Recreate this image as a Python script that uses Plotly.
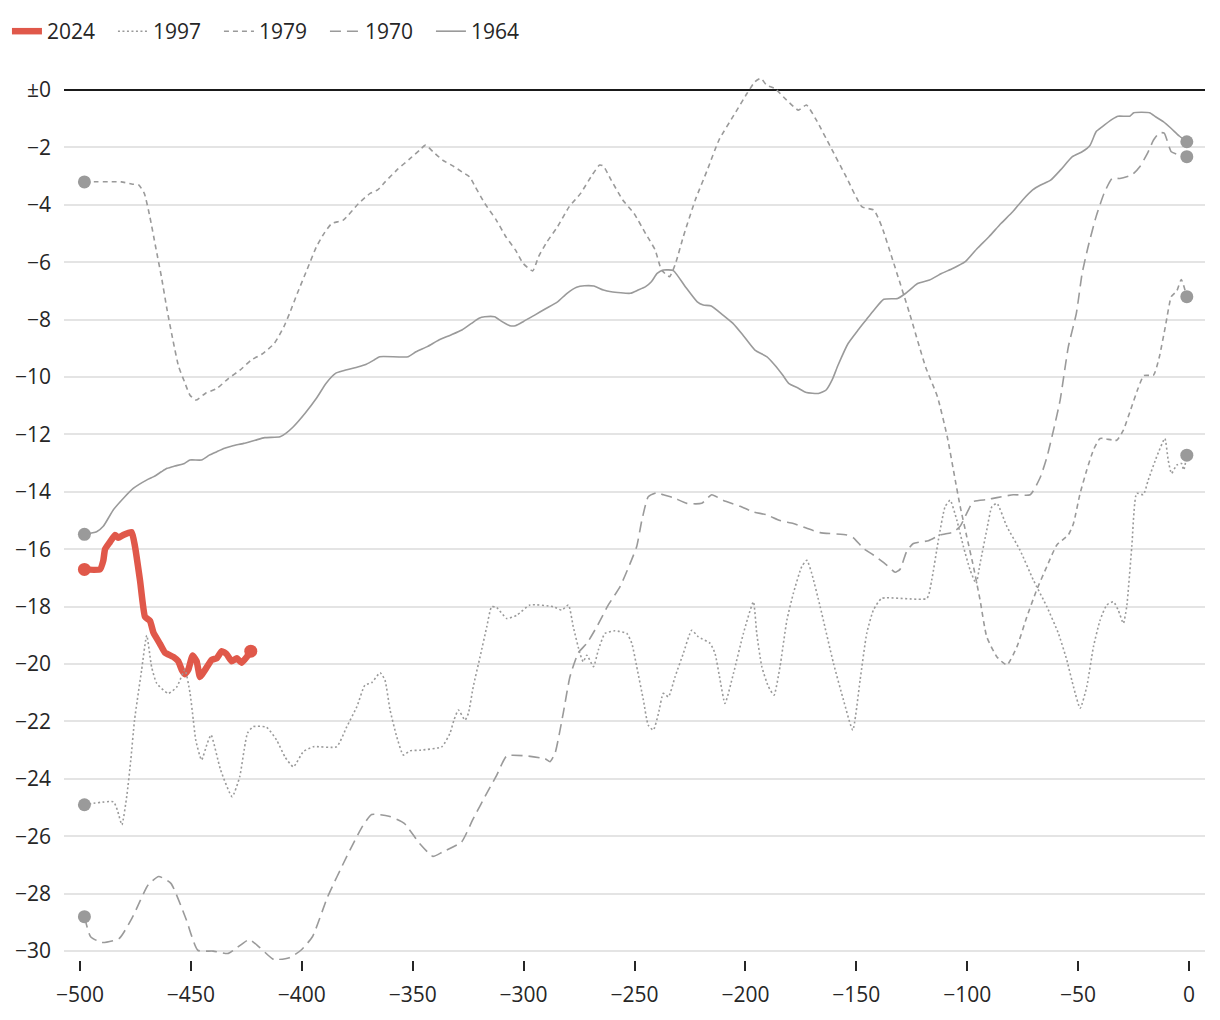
import plotly.graph_objects as go

# ---------------- data ----------------
x_2024 = [-498, -491, -489.5, -488.7, -486.5, -484.2, -482.7, -480.5, -476.7, -475.2, -472.9, -470.7,
          -468.4, -466.9, -463.9, -461.7, -457.9, -455.7, -454.1, -452.7, -451.2, -449.2, -447.4,
          -445.9, -443.6, -440.6, -438.4, -436.1, -433.9, -431.6, -429.3, -427.1, -424.8, -423]
y_2024 = [-16.7, -16.7, -16.4, -16.0, -15.75, -15.5, -15.6, -15.5, -15.4, -15.9, -17.1, -18.35,
          -18.5, -18.9, -19.3, -19.6, -19.75, -19.9, -20.2, -20.35, -20.2, -19.7, -19.9,
          -20.45, -20.2, -19.85, -19.8, -19.55, -19.65, -19.9, -19.8, -19.95, -19.75, -19.55]

x_1997 = [-498, -484.9, -483.1, -481.1, -478.9, -477.1, -475.4, -472.2, -469.9, -467.7, -465.4,
          -460.2, -456.4, -452.7, -450.4, -448.9, -447.8, -445.2, -442.6, -440.9, -436.6, -431.4,
          -428, -424.5, -421.9, -415.9, -411.3, -407.6, -403.8, -399.3, -394.8, -384.3, -379.7,
          -375.2, -371.5, -368.5, -364.7, -362.5, -360.2, -357.2, -354.2, -351.2, -346.7, -336.9,
          -333.2, -331.4, -329.4, -326.4, -324.9, -322.7, -319.6, -316.6, -314.4, -312.1, -307.6,
          -303.1, -297.1, -286.6, -282.8, -279.8, -277.6, -274.6, -273.1, -271.5, -268.5, -266.3,
          -263.3, -258.8, -253.5, -251.2, -249, -246, -243.8, -241.5, -239.2, -237, -234.7, -231.7,
          -228, -224.2, -221.2, -215.9, -213.7, -211.4, -209.2, -205.4, -200.9, -196.4, -194.9,
          -192.6, -189.6, -187.1, -184.4, -181.3, -178.4, -174.6, -172.3, -170.1, -166.3, -160.3,
          -155.8, -151.6, -148.3, -145.3, -142.3, -138.5, -118.2, -116, -113, -110, -107.7, -104.7,
          -101.7, -98.7, -96, -94.2, -91.2, -88.9, -86.6, -82.1, -76.2, -70.2, -64.1, -58.9, -55.1,
          -52.1, -49.1, -46.1, -43.1, -40.1, -37.1, -34.1, -31.9, -29.6, -28.1, -25.8, -23.6, -20.6,
          -18.4, -14.6, -10.9, -9.4, -7.9, -5.6, -3.4, -2.4, -1]
y_1997 = [-24.9, -24.8, -25.1, -25.6, -24.6, -23.35, -21.95, -20.2, -19.0, -20.1, -20.67,
          -21.02, -20.8, -20.2, -21.0, -21.95, -22.65, -23.34, -22.76, -22.47, -23.69, -24.62,
          -23.93, -22.41, -22.18, -22.2, -22.65, -23.23, -23.58, -23.05, -22.88, -22.88, -22.18,
          -21.49, -20.73, -20.65, -20.3, -20.56, -21.6, -22.53, -23.17, -23.02, -23.0, -22.88,
          -22.41, -21.95, -21.6, -21.95, -21.72, -20.79, -19.74, -18.7, -18.0, -18.03, -18.41,
          -18.3, -17.94, -18.0, -18.12, -17.94, -18.7, -19.63, -19.92, -19.69, -20.09, -19.51,
          -18.93, -18.84, -18.93, -19.28, -20.09, -21.25, -22.13, -22.3, -21.72, -21.02, -21.14, -20.44,
          -19.63, -18.82, -19.05, -19.28, -19.63, -20.56, -21.37, -20.33, -18.93, -17.83, -18.93,
          -20.09, -20.79, -21.08, -20.09, -18.47, -17.54, -16.6, -16.38, -16.84, -18.0, -19.97,
          -21.25, -22.3, -20.56, -18.93, -18.12, -17.71, -17.71, -17.07, -15.68, -14.52, -14.29, -14.98,
          -15.91, -16.72, -17.19, -16.49, -15.33, -14.52, -14.4, -15.21, -16.03, -17.07, -18.0, -18.93, -19.86,
          -20.79, -21.54, -20.79, -19.4, -18.47, -17.94, -17.83, -18.12, -18.58, -18.0, -15.91, -14.05, -14.1,
          -13.59, -12.78, -12.14, -12.89, -13.36, -13.07, -13.01, -13.24, -12.72]

x_1979 = [-498, -481.4, -476.2, -473.6, -471, -468.5, -465.9, -463.3, -460.7, -458.1, -455.5,
          -452.9, -450.4, -447.7, -443.5, -438.3, -433.1, -427.9, -422.8, -417.6, -412.4, -408.1,
          -405.5, -402, -397.7, -393.4, -390, -386.5, -381.3, -374.4, -369.2, -365.8, -362.3,
          -357.2, -351.1, -346.8, -344.2, -340.8, -336.5, -331.3, -327.8, -324.4, -321.8, -317.5,
          -312.3, -308, -303.7, -300.2, -295.9, -293.3, -289.9, -284.7, -279.5, -274.3, -269.1,
          -265.7, -264, -260.5, -255.3, -250.2, -245, -240.7, -237.8, -234.2, -231.5, -228, -222.6,
          -217.2, -211.9, -204.7, -199.3, -195.7, -193.1, -190.4, -186.8, -181.4, -176.1, -172.5,
          -168, -161.7, -154.6, -147.4, -142.1, -138.5, -133.1, -126, -118.8, -113.4, -109, -105.4,
          -103.2, -100.2, -97.2, -94.2, -91.2, -86.6, -82.1, -77.6, -73.1, -68.6, -64.1, -59.6,
          -54.4, -52.1, -49.1, -46.1, -43.1, -40.1, -32.6, -29.6, -26.6, -23, -20.4, -16, -13.4,
          -10.7, -8, -5.5, -3.5, -1]
y_1979 = [-3.2, -3.2, -3.28, -3.3, -3.6, -4.41, -5.46, -6.5, -7.67, -8.71, -9.64,
          -10.16, -10.63, -10.8, -10.57, -10.4, -10.05, -9.76, -9.41, -9.18, -8.83, -8.25,
          -7.78, -7.08, -6.27, -5.46, -5.0, -4.65, -4.53, -3.95, -3.6, -3.48, -3.19,
          -2.79, -2.38, -2.09, -1.92, -2.15, -2.44, -2.67, -2.85, -3.02, -3.37, -3.95,
          -4.53, -5.11, -5.57, -6.04, -6.3, -5.81, -5.34, -4.76, -4.07, -3.6, -2.96,
          -2.61, -2.65, -3.14, -3.83, -4.3, -5.0, -5.57, -6.27, -6.5, -6.04, -5.11, -3.83,
          -2.79, -1.74, -0.81, -0.12, 0.29, 0.41, 0.17, 0.06, -0.35, -0.7, -0.52,
          -1.05, -1.97, -3.02, -4.07, -4.18, -4.76, -6.04, -7.78, -9.64, -10.69, -12.08, -13.59,
          -14.5, -15.56, -16.6, -17.77, -19.05, -19.75, -20.03, -19.4, -18.35, -17.4, -16.6, -15.85,
          -15.5, -15.1, -14.05, -13.24, -12.54, -12.14, -12.2, -11.85, -11.2, -10.4, -9.95, -9.93, -9.3,
          -8.25, -7.2, -7.0, -6.6, -7.2]

x_1970 = [-498, -495.2, -490.1, -482.3, -476.2, -469.3, -464.5, -459, -452.1, -446.9, -440,
          -433.1, -423.7, -419.3, -412.5, -405.6, -400.4, -395.2, -388.3, -379.7, -372.8, -368.5,
          -360.7, -353.8, -346.9, -340.9, -336.6, -328, -322.8, -315.9, -312.1, -307.6, -298.6,
          -290.3, -288.1, -285.8, -282.1, -279.1, -275.3, -271.5, -267, -261.8, -256.5, -252, -249,
          -246.7, -243.8, -240, -237, -232.5, -226.4, -219.7, -215.2, -209.9, -202.4, -196.4,
          -190.4, -184.4, -178.4, -172.3, -166.3, -154.3, -151.3, -146.8, -142.3, -136.3, -132.5,
          -130.3, -127.3, -124.3, -117.5, -112.2, -106.2, -103.2, -97.2, -91.2, -86.6, -79.2, -71.6,
          -67.1, -64.1, -61.1, -58.1, -54.4, -50.8, -48.2, -45.5, -41.9, -38.3, -34.7, -31.2, -25.8,
          -22.2, -18.7, -16, -13.4, -11.2, -8, -4.4, -1]
y_1970 = [-28.8, -29.5, -29.7, -29.56, -28.8, -27.7, -27.4, -27.64, -28.9, -29.97, -30.0,
          -30.08, -29.6, -29.85, -30.3, -30.23, -29.97, -29.5, -28.1, -26.7, -25.67, -25.24,
          -25.3, -25.55, -26.25, -26.7, -26.55, -26.2, -25.4, -24.4, -23.87, -23.2, -23.2,
          -23.3, -23.4, -23.1, -21.7, -20.44, -19.6, -19.28, -18.7, -17.94, -17.3, -16.5, -15.9,
          -15.0, -14.17, -14.03, -14.1, -14.2, -14.4, -14.4, -14.1, -14.3, -14.5, -14.7,
          -14.8, -15.0, -15.1, -15.27, -15.42, -15.5, -15.6, -15.97, -16.2, -16.55, -16.8,
          -16.7, -16.08, -15.8, -15.7, -15.5, -15.4, -15.2, -14.34, -14.27, -14.2, -14.1, -14.1,
          -13.5, -12.8, -11.85, -10.8, -8.94, -7.78, -6.39, -5.46, -4.41, -3.6, -3.08, -3.08, -2.96,
          -2.67, -2.2, -1.74, -1.49, -1.5, -2.15, -2.26, -2.32]

x_1964 = [-498, -492.5, -489.5, -485, -480.5, -476, -470, -466.7, -463.3, -460.7, -457.3, -452.9,
          -450.4, -445.2, -441.7, -438.3, -434.8, -431.4, -426.2, -421, -416.7, -409.8, -407.2,
          -403.8, -398.6, -393.4, -389.1, -384.8, -381.3, -374.4, -370.9, -367.5, -364.9, -352,
          -348.5, -343.4, -338.2, -333, -327.8, -323.5, -320.1, -317.5, -313.1, -309.7, -306.2,
          -303.7, -300.2, -295, -289.9, -284.7, -280.4, -276.1, -272.6, -268.3, -264, -260.5,
          -251.9, -248.4, -245, -242.4, -239.8, -236.9, -232.5, -227.1, -221.7, -219, -215.4,
          -210.1, -205.6, -201.1, -195.7, -190.4, -186.8, -183.2, -180.5, -176.1, -172.5, -167.1,
          -163.6, -160.9, -158.2, -153.7, -149.2, -145.6, -142.1, -137.6, -131.4, -127.7, -122.4,
          -117, -111.6, -106.3, -100.9, -95.5, -90.2, -84.8, -79.5, -75, -70.5, -66.9, -62.4, -58,
          -52.6, -48.2, -44.6, -41.9, -39.2, -34.7, -32, -26.7, -24.9, -17.8, -15.1, -11.6, -8,
          -4.4, -1]
y_1964 = [-15.48, -15.39, -15.2, -14.63, -14.23, -13.88, -13.59, -13.47, -13.3, -13.18, -13.1, -13.01,
          -12.89, -12.89, -12.72, -12.6, -12.48, -12.4, -12.31, -12.2, -12.11, -12.08, -11.96,
          -11.73, -11.27, -10.74, -10.22, -9.87, -9.78, -9.64, -9.55, -9.41, -9.29, -9.29,
          -9.12, -8.94, -8.71, -8.54, -8.36, -8.13, -7.95, -7.9, -7.9, -8.07, -8.21,
          -8.21, -8.07, -7.84, -7.61, -7.38, -7.08, -6.87, -6.82, -6.83, -6.97, -7.03,
          -7.08, -6.97, -6.85, -6.68, -6.39, -6.27, -6.29, -6.85, -7.38, -7.49, -7.52,
          -7.84, -8.13, -8.54, -9.06, -9.29, -9.58, -9.93, -10.22, -10.39, -10.54, -10.57,
          -10.45, -10.1, -9.58, -8.83, -8.36, -8.01, -7.67, -7.29, -7.26, -7.08, -6.74,
          -6.62, -6.39, -6.21, -5.98, -5.52, -5.11, -4.65, -4.24, -3.83, -3.48, -3.31, -3.14, -2.79,
          -2.32, -2.15, -1.92, -1.45, -1.28, -1.02, -0.91, -0.91, -0.79, -0.79, -0.93, -1.1, -1.34,
          -1.6, -1.8]

x_ticks = [-500, -450, -400, -350, -300, -250, -200, -150, -100, -50, 0]
x_ticktext = ["\u2212500", "\u2212450", "\u2212400", "\u2212350", "\u2212300", "\u2212250",
              "\u2212200", "\u2212150", "\u2212100", "\u221250", "0"]
y_ticks = [0, -2, -4, -6, -8, -10, -12, -14, -16, -18, -20, -22, -24, -26, -28, -30]
y_ticktext = ["\u00b10"] + ["\u2212" + str(-v) for v in y_ticks[1:]]

# ---------------- styles ----------------
GRAY = "#9a9a9a"
RED = "#e0584a"
FONT = "Open Sans"
TXT = "#262626"

series = [
    ("1997", x_1997, y_1997, "2px,2.5px"),
    ("1979", x_1979, y_1979, "5px,4px"),
    ("1970", x_1970, y_1970, "11px,6px"),
    ("1964", x_1964, y_1964, "solid"),
]

fig = go.Figure()

fig.add_trace(go.Scatter(x=x_2024, y=y_2024, mode="lines", name="2024",
                         line=dict(color=RED, width=6.5, shape="spline", smoothing=0.4),
                         legendrank=1))
for i, (name, xs, ys, dash) in enumerate(series):
    fig.add_trace(go.Scatter(x=xs, y=ys, mode="lines", name=name,
                             line=dict(color=GRAY, width=1.6, dash=dash, shape="spline",
                                       smoothing=0.5),
                             legendrank=2 + i))
for name, xs, ys, dash in series:
    fig.add_trace(go.Scatter(x=[xs[0], xs[-1]], y=[ys[0], ys[-1]], mode="markers",
                             marker=dict(color=GRAY, size=13), showlegend=False,
                             hoverinfo="skip"))
fig.add_trace(go.Scatter(x=[x_2024[0], x_2024[-1]], y=[y_2024[0], y_2024[-1]], mode="markers",
                         marker=dict(color=RED, size=13), showlegend=False, hoverinfo="skip"))

fig.update_layout(
    width=1220, height=1020,
    margin=dict(l=64, r=15, t=76, b=60, autoexpand=False),
    paper_bgcolor="white", plot_bgcolor="white",
    font=dict(family=FONT, size=20, color=TXT),
    showlegend=True,
    legend=dict(orientation="h", x=-0.05, xanchor="left", y=1.0735, yanchor="top",
                font=dict(size=21, color=TXT), entrywidth=61,
                traceorder="normal", bgcolor="rgba(0,0,0,0)"),
    hovermode=False,
)
fig.update_xaxes(range=[-507.2, 7.2], tickvals=x_ticks, ticktext=x_ticktext,
                 showgrid=False, zeroline=False, showline=False,
                 ticks="outside", ticklen=10, tickwidth=1.5, tickcolor=TXT,
                 ticklabelstandoff=6,
                 tickfont=dict(size=21, color=TXT))
fig.update_yaxes(range=[-30.31, 0.49], tickvals=y_ticks, ticktext=y_ticktext,
                 showgrid=True, gridcolor="#e4e4e4", gridwidth=2,
                 zeroline=True, zerolinecolor="#1a1a1a", zerolinewidth=2,
                 showline=False, ticks="", ticklabelstandoff=12,
                 tickfont=dict(size=21, color=TXT))

fig.write_html("out.html")
